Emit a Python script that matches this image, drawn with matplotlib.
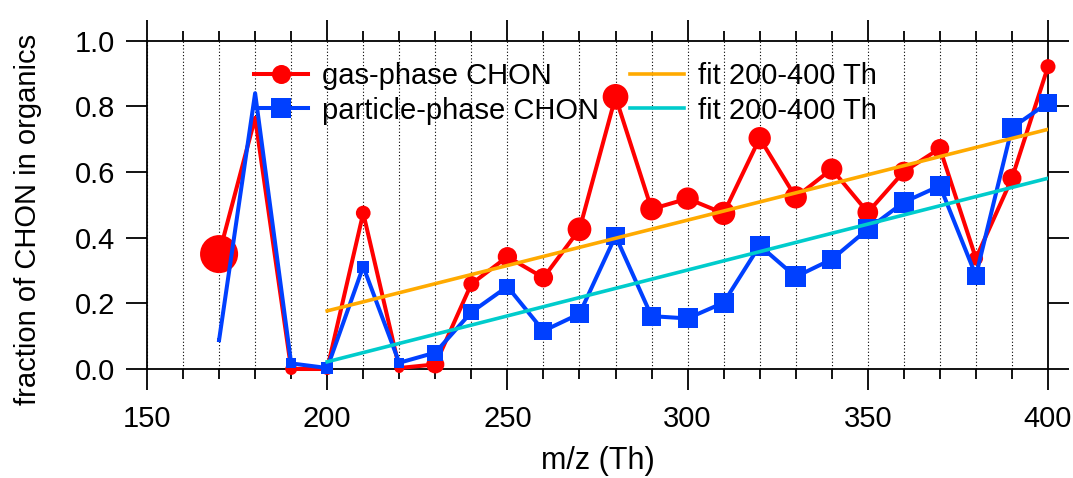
import numpy as np
import matplotlib.pyplot as plt
from matplotlib.lines import Line2D
from matplotlib.ticker import MultipleLocator

plt.rcParams['font.family'] = ['Liberation Sans', 'DejaVu Sans']

# m/z bins (Th)
mz = [170, 180, 190, 200, 210, 220, 230, 240, 250, 260, 270, 280,
      290, 300, 310, 320, 330, 340, 350, 360, 370, 380, 390, 400]

# fraction of CHON in organics
gas_chon = [0.35, 0.765, 0.0, 0.0, 0.475, 0.003, 0.014, 0.259, 0.342, 0.278, 0.4255, 0.829,
            0.487, 0.519, 0.474, 0.703, 0.523, 0.609, 0.477, 0.601, 0.672, 0.337, 0.581, 0.921]
particle_chon = [0.088, 0.84, 0.017, 0.003, 0.312, 0.019, 0.05, 0.173, 0.251, 0.116, 0.168, 0.405,
                 0.161, 0.154, 0.202, 0.376, 0.281, 0.334, 0.426, 0.508, 0.558, 0.284, 0.735, 0.811]

# marker sizes (pt)
gas_ms = [27.4, 2.2, 8.6, 8.6, 10.6, 7.2, 13.0, 11.5, 13.9, 13.9, 17.1, 18.5,
          16.3, 16.1, 16.8, 16.1, 16.1, 15.3, 14.9, 14.4, 13.5, 10.3, 13.7, 10.8]
particle_ms = [2.9, 1.4, 7.2, 8.6, 8.6, 7.2, 11.5, 11.5, 11.5, 13.0, 13.7, 13.0,
               13.7, 14.4, 14.4, 14.4, 15.1, 14.0, 14.4, 14.8, 14.8, 13.0, 14.4, 13.0]

# linear fits over 200-400 Th (end points)
fit_mz = [200, 400]
gas_fit = [0.177, 0.730]
particle_fit = [0.022, 0.581]

red = '#FF0000'
blue = '#0040FF'
orange = '#FFAA00'
cyan = '#00CCCC'

fig = plt.figure(figsize=(10.73, 4.78), dpi=100)
ax = fig.add_axes([147 / 1073, 1 - 369 / 478, 901 / 1073, 328.3 / 478])

ax.plot(mz, gas_chon, color=red, lw=2.9, clip_on=False, zorder=3)
ax.scatter(mz, gas_chon, s=np.array(gas_ms) ** 2, marker='o', color=red,
           linewidths=0, clip_on=False, zorder=3)
ax.plot(mz, particle_chon, color=blue, lw=2.9, clip_on=False, zorder=4)
ax.scatter(mz, particle_chon, s=np.array(particle_ms) ** 2, marker='s', color=blue,
           linewidths=0, clip_on=False, zorder=4)
ax.plot(fit_mz, gas_fit, color=orange, lw=2.6, zorder=5)
ax.plot(fit_mz, particle_fit, color=cyan, lw=2.6, zorder=5)

ax.set_xlim(150, 400)
ax.set_ylim(0, 1)
ax.xaxis.set_major_locator(MultipleLocator(50))
ax.xaxis.set_minor_locator(MultipleLocator(10))
ax.yaxis.set_major_locator(MultipleLocator(0.2))
ax.yaxis.set_major_formatter(plt.FormatStrFormatter('%.1f'))
ax.grid(axis='x', which='both', color='black', lw=0.8, linestyle=(0, (1, 2)))

for sp in ax.spines.values():
    sp.set_linewidth(1.3)
ax.tick_params(which='both', direction='out', top=True, right=True, width=1.3, labelsize=21)
ax.tick_params(which='major', length=15)
ax.tick_params(which='minor', length=7)
ax.tick_params(axis='x', pad=11)
ax.tick_params(axis='y', pad=8)

ax.set_xlabel('m/z (Th)', fontsize=22)
ax.set_ylabel('fraction of CHON in organics', fontsize=21)
ax.xaxis.set_label_coords(0.5, -0.235)
ax.yaxis.set_label_coords(-0.117, 0.457)

handles = [
    Line2D([], [], color=red, lw=2.9, marker='o', markersize=13.7, markeredgewidth=0),
    Line2D([], [], color=blue, lw=2.9, marker='s', markersize=13.7, markeredgewidth=0),
    Line2D([], [], color=orange, lw=2.6),
    Line2D([], [], color=cyan, lw=2.6),
]
labels = ['gas-phase CHON', 'particle-phase CHON', 'fit 200-400 Th', 'fit 200-400 Th']
fig.legend(handles, labels, ncol=2, loc='upper left', bbox_to_anchor=(254 / 1073, 1 - 62 / 478),
           frameon=False, fontsize=21, borderpad=0, borderaxespad=0, handlelength=1.85,
           handletextpad=0.48, columnspacing=1.06, labelspacing=0.226)

fig.savefig('out.png', dpi=100)
